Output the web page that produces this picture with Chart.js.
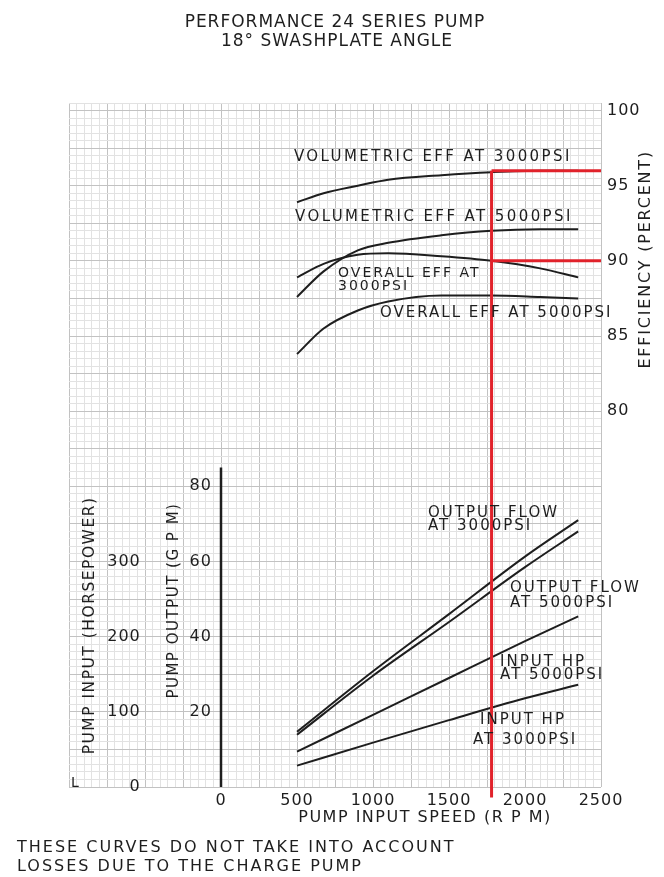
<!DOCTYPE html>
<html>
<head>
<meta charset="utf-8">
<title>Performance 24 Series Pump</title>
<script src="https://cdn.jsdelivr.net/npm/chart.js@4/dist/chart.umd.min.js"></script>
<style>
  html, body { margin: 0; padding: 0; background: #fff; }
  #wrap { width: 664px; height: 877px; }
</style>
</head>
<body>
<div id="wrap"><canvas id="pumpChart"></canvas></div>
<script>
// Efficiency curves (percent) vs pump input speed (rpm)
const effRpm = [500, 675, 900, 1100, 1450, 1780, 2100, 2350];
const volEff3000 = [93.9, 94.5, 95.0, 95.4, 95.7, 95.9, 96.0, 96.0];
const volEff5000 = [87.6, 89.3, 90.7, 91.2, 91.7, 92.0, 92.1, 92.1];
const overallEff3000 = [88.9, 89.8, 90.4, 90.5, 90.3, 90.0, 89.5, 88.9];
const overallEff5000 = [83.8, 85.5, 86.7, 87.3, 87.7, 87.7, 87.6, 87.5];

// Output flow (gpm) and input power (hp) vs speed
const lineRpm = [500, 1000, 1500, 2000, 2350];
const flowGpm3000 = [14.7, 30.8, 46.0, 61.3, 71.0];
const flowGpm5000 = [13.9, 29.6, 43.9, 58.5, 68.0];
const inputHp5000 = [47, 96, 145, 194, 227];
const inputHp3000 = [28.4, 59, 89, 118, 136];

// Operating point marked in red
const opRpm = 1780;
const opVolEff = 96;
const opOverallEff = 90;

// Tick labels
const rpmTickLabels = [0, 500, 1000, 1500, 2000, 2500];
const effTickLabels = [80, 85, 90, 95, 100];
const hpTickLabels = [0, 100, 200, 300];
const gpmTickLabels = [20, 40, 60, 80];

// Axis ranges (one shared grid: 1 gpm = 5 hp = 0.25 %)
const RPM_MIN = -1000, RPM_MAX = 2500;
const GPM_MAX = 182;
const EFF_MIN = 55;

const INK = '#1e1e1e';
const RED = '#e1222b';
const FONT = 'DejaVu Sans, Verdana, sans-serif';

const pts = (xs, ys) => xs.map((x, i) => ({ x, y: ys[i] }));

const curve = (label, data, yAxisID) => ({
    label, data, yAxisID,
    borderColor: INK, borderWidth: 2, pointRadius: 0,
    cubicInterpolationMode: 'monotone', fill: false, order: 2
});

const redLine = (label, data) => ({
    label, data, yAxisID: 'eff',
    borderColor: RED, borderWidth: 3, pointRadius: 0,
    tension: 0, fill: false, clip: false, order: 0
});

// Curve labels, anchored in data units (left edge, middle)
const curveLabels = [
    { text: 'VOLUMETRIC EFF AT 3000PSI', rpm: 480, v: 96.9, axis: 'eff', sp: 2.4 },
    { text: 'VOLUMETRIC EFF AT 5000PSI', rpm: 487, v: 92.9, axis: 'eff', sp: 2.4 },
    { text: 'OVERALL EFF AT', rpm: 770, v: 89.2, axis: 'eff', size: 14 },
    { text: '3000PSI', rpm: 770, v: 88.3, axis: 'eff', size: 14 },
    { text: 'OVERALL EFF AT 5000PSI', rpm: 1046, v: 86.55, axis: 'eff' },
    { text: 'OUTPUT FLOW', rpm: 1362, v: 73.0, axis: 'y' },
    { text: 'AT 3000PSI', rpm: 1362, v: 69.3, axis: 'y' },
    { text: 'OUTPUT FLOW', rpm: 1901, v: 53.0, axis: 'y' },
    { text: 'AT 5000PSI', rpm: 1901, v: 49.0, axis: 'y' },
    { text: 'INPUT HP', rpm: 1836, v: 166.5, axis: 'hp' },
    { text: 'AT 5000PSI', rpm: 1836, v: 149.5, axis: 'hp' },
    { text: 'INPUT HP', rpm: 1704, v: 89.5, axis: 'hp' },
    { text: 'AT 3000PSI', rpm: 1658, v: 62.5, axis: 'hp' }
];

function drawText(ctx, str, x, y, size, align, spacing, rotate) {
    ctx.save();
    ctx.font = `${size}px ${FONT}`;
    ctx.letterSpacing = `${spacing}px`;
    ctx.fillStyle = INK;
    ctx.textAlign = align;
    ctx.textBaseline = 'middle';
    ctx.translate(x, y);
    if (rotate) ctx.rotate(-Math.PI / 2);
    ctx.fillText(str, 0, 0);
    ctx.restore();
}

const pumpPlugin = {
    id: 'pumpLabels',
    beforeDraw(chart) {
        const ctx = chart.ctx;
        ctx.save();
        ctx.fillStyle = '#fff';
        ctx.fillRect(0, 0, chart.width, chart.height);
        ctx.restore();
        ctx.letterSpacing = '1px';
    },
    beforeDatasetsDraw(chart) {
        // heavy GPM axis line at 0 rpm
        const { x, y } = chart.scales;
        const ctx = chart.ctx;
        ctx.save();
        ctx.strokeStyle = INK;
        ctx.lineWidth = 2.5;
        ctx.beginPath();
        ctx.moveTo(x.getPixelForValue(0), y.getPixelForValue(0));
        ctx.lineTo(x.getPixelForValue(0), y.getPixelForValue(85));
        ctx.stroke();
        ctx.restore();
    },
    afterDraw(chart) {
        const ctx = chart.ctx;
        const s = chart.scales;
        const area = chart.chartArea;

        curveLabels.forEach(l => {
            drawText(ctx, l.text, s.x.getPixelForValue(l.rpm), s[l.axis].getPixelForValue(l.v), l.size || 15, 'left', l.sp || 2);
        });

        // axis titles
        drawText(ctx, 'PUMP INPUT (HORSEPOWER)', s.x.getPixelForValue(-860), s.y.getPixelForValue(43), 15.5, 'center', 1.5, true);
        drawText(ctx, 'PUMP OUTPUT (G P M)', s.x.getPixelForValue(-309), s.y.getPixelForValue(49.6), 15, 'center', 1.5, true);
        drawText(ctx, 'EFFICIENCY (PERCENT)', area.right + 45, s.eff.getPixelForValue(90.1), 16, 'center', 1.8, true);
        drawText(ctx, 'PUMP INPUT SPEED (R P M)', s.x.getPixelForValue(1342), area.bottom + 31, 16, 'center', 1.5);
        drawText(ctx, 'L', area.left + 2, area.bottom - 4, 14, 'left', 0);

        // heading and footnote
        drawText(ctx, 'PERFORMANCE 24 SERIES PUMP', 335, 23, 17, 'center', 1);
        drawText(ctx, '18\u00B0 SWASHPLATE ANGLE', 337, 42, 17, 'center', 1);
        drawText(ctx, 'THESE CURVES DO NOT TAKE INTO ACCOUNT', 17, 848, 16, 'left', 2);
        drawText(ctx, 'LOSSES DUE TO THE CHARGE PUMP', 17, 867, 16, 'left', 2);
    }
};

const gridColor = (step) => (c) => (c.tick && Math.abs(c.tick.value % step) < 1e-6) ? '#c2c2c2' : '#e2e2e2';
const tickFont = { family: FONT, size: 16 };

new Chart(document.getElementById('pumpChart'), {
    type: 'line',
    data: {
        datasets: [
            redLine('Operating speed', [{ x: opRpm, y: opVolEff }, { x: opRpm, y: EFF_MIN - 0.7 }]),
            redLine('Volumetric eff at speed', [{ x: opRpm, y: opVolEff }, { x: RPM_MAX, y: opVolEff }]),
            redLine('Overall eff at speed', [{ x: opRpm, y: opOverallEff }, { x: RPM_MAX, y: opOverallEff }]),
            curve('Volumetric eff at 3000 psi', pts(effRpm, volEff3000), 'eff'),
            curve('Volumetric eff at 5000 psi', pts(effRpm, volEff5000), 'eff'),
            curve('Overall eff at 3000 psi', pts(effRpm, overallEff3000), 'eff'),
            curve('Overall eff at 5000 psi', pts(effRpm, overallEff5000), 'eff'),
            curve('Output flow at 3000 psi', pts(lineRpm, flowGpm3000), 'y'),
            curve('Output flow at 5000 psi', pts(lineRpm, flowGpm5000), 'y'),
            curve('Input hp at 5000 psi', pts(lineRpm, inputHp5000), 'hp'),
            curve('Input hp at 3000 psi', pts(lineRpm, inputHp3000), 'hp')
        ]
    },
    options: {
        responsive: true,
        maintainAspectRatio: false,
        animation: false,
        layout: { padding: { left: 69, right: 23, top: 103, bottom: 50 } },
        plugins: { legend: { display: false }, tooltip: { enabled: false }, title: { display: false } },
        scales: {
            x: {
                type: 'linear', min: RPM_MIN, max: RPM_MAX,
                afterFit: (sc) => { sc.height = 40; },
                border: { display: false },
                grid: { color: gridColor(250), lineWidth: 1, drawTicks: false },
                ticks: {
                    stepSize: 50, autoSkip: false, maxRotation: 0, padding: 4,
                    color: INK, font: tickFont,
                    callback: v => rpmTickLabels.includes(v) ? String(v) : ''
                }
            },
            y: {
                type: 'linear', min: 0, max: GPM_MAX, position: { x: -60 },
                border: { display: false },
                grid: { color: gridColor(10), lineWidth: 1, drawTicks: false },
                ticks: {
                    stepSize: 2, autoSkip: false, color: INK, font: tickFont,
                    callback: v => gpmTickLabels.includes(v) ? String(v) : ''
                }
            },
            hp: {
                type: 'linear', min: 0, max: GPM_MAX * 5, position: { x: -528 },
                afterBuildTicks: (sc) => { sc.ticks = hpTickLabels.map(value => ({ value })); },
                border: { display: false },
                grid: { display: false, drawTicks: false },
                ticks: { autoSkip: false, color: INK, font: tickFont, callback: v => String(v) }
            },
            eff: {
                type: 'linear', min: EFF_MIN, max: EFF_MIN + GPM_MAX / 4, position: 'right',
                afterFit: (sc) => { sc.width = 40; },
                border: { display: false },
                grid: { display: false, drawTicks: false },
                ticks: {
                    stepSize: 5, autoSkip: false, includeBounds: false, padding: 6, color: INK, font: tickFont,
                    callback: v => effTickLabels.includes(v) ? String(v) : ''
                }
            }
        }
    },
    plugins: [pumpPlugin]
});
</script>
</body>
</html>
